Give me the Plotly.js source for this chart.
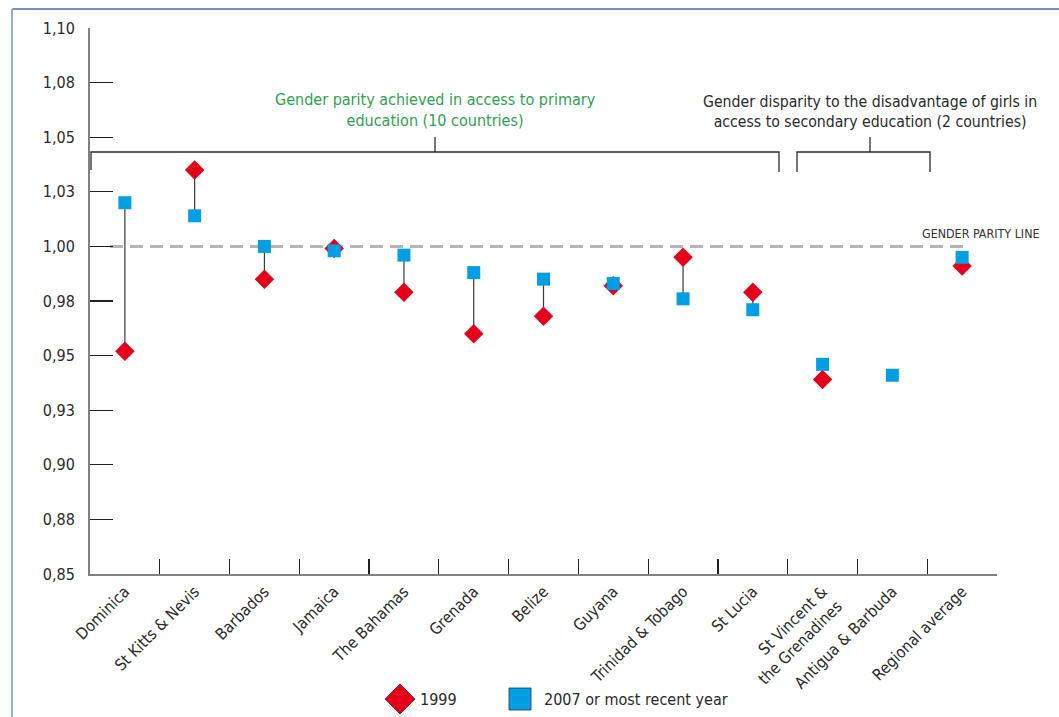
<!DOCTYPE html>
<html>
<head>
<meta charset="utf-8">
<script src="https://cdn.plot.ly/plotly-3.0.1.min.js"></script>
<style>
  html, body { margin: 0; padding: 0; background: #ffffff; }
  #chart { width: 1059px; height: 717px; }
</style>
</head>
<body>
<div id="chart"></div>
<script>
// ---- data ----
const countries = ["Dominica", "St Kitts & Nevis", "Barbados", "Jamaica", "The Bahamas", "Grenada",
  "Belize", "Guyana", "Trinidad & Tobago", "St Lucia", "St Vincent &<br>the Grenadines",
  "Antigua & Barbuda", "Regional average"];
const gpi1999 = [0.952, 1.035, 0.985, 0.999, 0.979, 0.960, 0.968, 0.982, 0.995, 0.979, 0.939, null, 0.991];
const gpi2007 = [1.020, 1.014, 1.000, 0.998, 0.996, 0.988, 0.985, 0.983, 0.976, 0.971, 0.946, 0.941, 0.995];
const yTickVals = [0.85, 0.875, 0.90, 0.925, 0.95, 0.975, 1.00, 1.025, 1.05, 1.075, 1.10];
const yTickText = ["0,85", "0,88", "0,90", "0,93", "0,95", "0,98", "1,00", "1,03", "1,05", "1,08", "1,10"];
const seriesNames = ["1999", "2007 or most recent year"];
const parityValue = 1.00;

// ---- geometry helpers (plot area in pixels) ----
const W = 1059, H = 717;
const M = { l: 90, r: 62, t: 28, b: 143, autoexpand: false };
const PW = W - M.l - M.r, PH = H - M.t - M.b;
const px = x => (x - M.l) / PW;
const py = y => (H - M.b - y) / PH;

const FONT = "'DejaVu Sans Condensed', 'Liberation Sans', sans-serif";
const RED = "#e2001a", BLUE = "#009fe3";

// connectors built from the data
const cx = [], cy = [];
countries.forEach((c, i) => {
  if (gpi1999[i] !== null && gpi2007[i] !== null) {
    cx.push(c, c, null);
    cy.push(gpi1999[i], gpi2007[i], null);
  }
});

const traces = [
  { x: cx, y: cy, type: "scatter", mode: "lines", line: { color: "#3a3a3a", width: 1.2 },
    showlegend: false, hoverinfo: "skip" },
  { x: countries, y: gpi1999, type: "scatter", mode: "markers", name: seriesNames[0], showlegend: false,
    marker: { symbol: "diamond", size: 15, color: RED } },
  { x: countries, y: gpi2007, type: "scatter", mode: "markers", name: seriesNames[1], showlegend: false,
    marker: { symbol: "square", size: 13, color: BLUE } }
];

const lineCol = "#2b2b2b";
// legend key geometry (pixels)
const dK = { x: 400, y: 699, r: 15 };
const sK = { x: 520, y: 699, h: 11 };
const shapes = [
  // frame
  { type: "line", xref: "paper", yref: "paper", x0: px(12), x1: px(1059), y0: py(9), y1: py(9),
    line: { color: "#3f6fae", width: 1.5 } },
  { type: "line", xref: "paper", yref: "paper", x0: px(12), x1: px(12), y0: py(9), y1: py(717),
    line: { color: "#8eafd2", width: 2 } },
  // gender parity line
  { type: "line", xref: "paper", yref: "y", x0: px(110), x1: px(970), y0: parityValue, y1: parityValue,
    line: { color: "#b5b5b5", width: 3, dash: "13px,7px" }, layer: "below" },
  // bracket 1
  { type: "path", xref: "paper", yref: "paper",
    path: `M ${px(91)} ${py(170)} L ${px(91)} ${py(152)} L ${px(779)} ${py(152)} L ${px(779)} ${py(172)}`,
    line: { color: lineCol, width: 1.3 } },
  { type: "line", xref: "paper", yref: "paper", x0: px(435), x1: px(435), y0: py(152), y1: py(137),
    line: { color: lineCol, width: 1.3 } },
  // bracket 2
  { type: "path", xref: "paper", yref: "paper",
    path: `M ${px(797)} ${py(172)} L ${px(797)} ${py(152)} L ${px(930)} ${py(152)} L ${px(930)} ${py(172)}`,
    line: { color: lineCol, width: 1.3 } },
  { type: "line", xref: "paper", yref: "paper", x0: px(870), x1: px(870), y0: py(152), y1: py(137),
    line: { color: lineCol, width: 1.3 } },
  // legend keys
  { type: "path", xref: "paper", yref: "paper",
    path: `M ${px(dK.x)} ${py(dK.y - dK.r)} L ${px(dK.x + dK.r)} ${py(dK.y)} L ${px(dK.x)} ${py(dK.y + dK.r)} L ${px(dK.x - dK.r)} ${py(dK.y)} Z`,
    fillcolor: RED, line: { color: "#5a1010", width: 0.8 } },
  { type: "rect", xref: "paper", yref: "paper",
    x0: px(sK.x - sK.h), x1: px(sK.x + sK.h), y0: py(sK.y + sK.h), y1: py(sK.y - sK.h),
    fillcolor: BLUE, line: { color: "#1a3a55", width: 0.8 } }
];

const annotations = [
  { xref: "paper", yref: "paper", x: px(435), y: py(110), xanchor: "center", yanchor: "middle",
    showarrow: false, align: "center",
    text: "Gender parity achieved in access to primary<br>education (10 countries)",
    font: { family: FONT, size: 16, color: "#2fa052" } },
  { xref: "paper", yref: "paper", x: px(870), y: py(111), xanchor: "center", yanchor: "middle",
    showarrow: false, align: "center",
    text: "Gender disparity to the disadvantage of girls in<br>access to secondary education (2 countries)",
    font: { family: FONT, size: 15.7, color: "#2a2a2a" } },
  { xref: "paper", yref: "paper", x: px(981), y: py(233), xanchor: "center", yanchor: "middle",
    showarrow: false,
    text: "GENDER PARITY LINE", font: { family: FONT, size: 12.4, color: "#333333" } },
  // legend labels
  { xref: "paper", yref: "paper", x: px(418), y: py(699), xanchor: "left", yanchor: "middle",
    showarrow: false, text: seriesNames[0], font: { family: FONT, size: 16, color: "#2a2a2a" } },
  { xref: "paper", yref: "paper", x: px(542), y: py(699), xanchor: "left", yanchor: "middle",
    showarrow: false, text: seriesNames[1], font: { family: FONT, size: 16, color: "#2a2a2a" } }
];

const layout = {
  width: W, height: H,
  margin: M,
  paper_bgcolor: "#ffffff", plot_bgcolor: "#ffffff",
  font: { family: FONT, color: "#2a2a2a" },
  showlegend: false,
  xaxis: {
    type: "category", categoryorder: "array", categoryarray: countries,
    range: [-0.5, countries.length - 0.5], tickson: "boundaries", automargin: false,
    ticks: "inside", ticklen: 15, tickcolor: "#222", tickwidth: 1.2,
    showline: true, linecolor: "#808080", linewidth: 2, showgrid: false, zeroline: false,
    tickangle: -45, tickfont: { family: FONT, size: 16, color: "#2a2a2a" }, fixedrange: true
  },
  yaxis: {
    range: [0.85, 1.10], tickmode: "array", tickvals: yTickVals, ticktext: yTickText, automargin: false,
    ticks: "inside", ticklen: 23, tickcolor: "#222", tickwidth: 1.2,
    showline: true, linecolor: "#808080", linewidth: 2, showgrid: false, zeroline: false,
    tickfont: { family: FONT, size: 16, color: "#2a2a2a" }, ticklabelstandoff: 10, fixedrange: true
  },
  shapes: shapes,
  annotations: annotations
};

Plotly.newPlot("chart", traces, layout, { displayModeBar: false, staticPlot: true });
</script>
</body>
</html>
